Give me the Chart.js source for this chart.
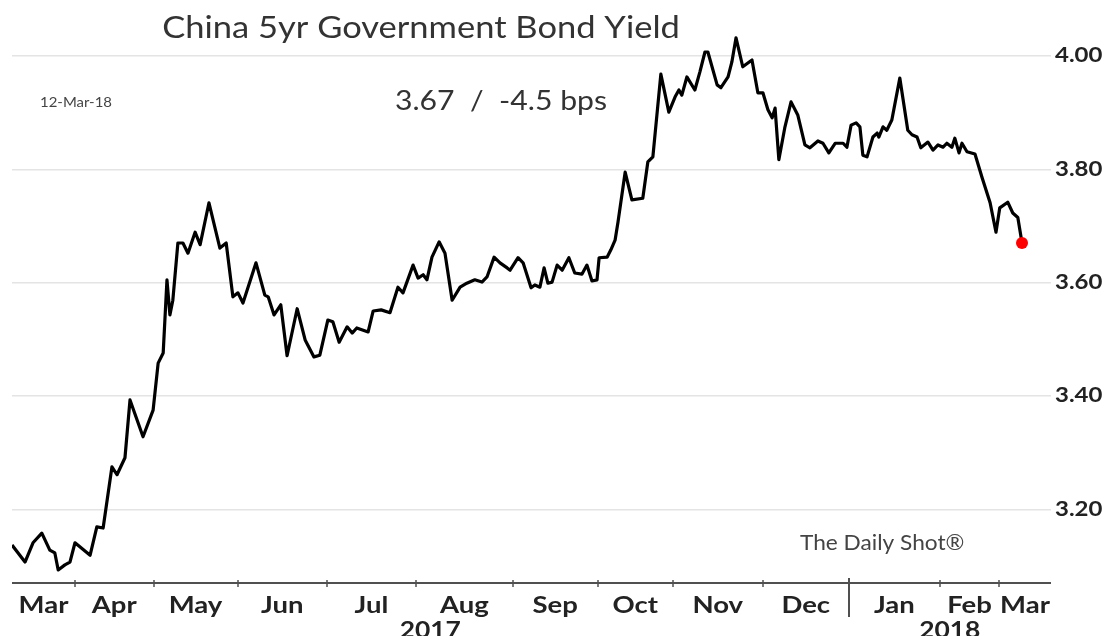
<!DOCTYPE html>
<html>
<head>
<meta charset="utf-8">
<title>China 5yr Government Bond Yield</title>
<script src="https://cdn.jsdelivr.net/npm/chart.js@4.4.1/dist/chart.umd.min.js"></script>
<style>
  html, body { margin: 0; padding: 0; background: #fff; }
</style>
</head>
<body>
<canvas id="yield" width="1107" height="636"></canvas>
<script>
// session number on the x axis (0 = first session shown) and the 5yr yield in %
const tradingDay = [0, 3.1, 5, 7.1, 9, 10.2, 11, 12.6, 13.8, 15,
  18.6, 20.2, 21.7, 23.8, 25, 26.9, 28.1, 31.2, 33.6, 34.8,
  36, 36.9, 37.6, 38.3, 39.5, 40.7, 41.9, 43.6, 44.8, 46.9,
  49.5, 51, 52.6, 53.8, 55, 58.1, 60.2, 61, 62.4, 64,
  65.5, 67.9, 69.8, 71.9, 73.3, 75.2, 76.4, 77.9, 79.8, 81,
  82.1, 84.8, 86, 87.9, 90, 91.9, 93.1, 95.5, 96.7, 97.9,
  98.8, 100, 101.7, 103.1, 104.8, 106.7, 108.3, 110.2, 111.9, 113.1,
  114.8, 116.2, 117.9, 118.6, 120.5, 121.7, 123.6, 124.5, 125.7, 126.7,
  127.6, 128.6, 129.8, 131, 132.6, 134, 135.7, 136.9, 138.1, 139.3,
  139.8, 141.7, 142.6, 143.6, 144.3, 146, 147.6, 150.2, 151.4, 152.6,
  154.5, 156.4, 157.9, 158.8, 159.5, 160.7, 162.6, 163.8, 165, 165.7,
  167.9, 168.8, 170.5, 171.4, 172.4, 174, 176.2, 177.6, 178.8, 180,
  181, 181.7, 182.6, 184, 185.5, 187.1, 188.8, 190, 191.9, 193.1,
  194.5, 196, 197.9, 198.8, 199.8, 201, 201.9, 202.6, 203.6, 205,
  206, 206.4, 207.4, 208.3, 209.5, 211.4, 213.3, 214.3, 215.5, 216.4,
  218.1, 219.3, 220.5, 221.7, 222.6, 223.8, 224.5, 225.5, 226.2, 227.4,
  229.3, 231, 232.9, 234.3, 235.2, 237.1, 238.3, 239.5, 240.5];

const yields = [3.137, 3.107, 3.141, 3.158, 3.128, 3.123, 3.093, 3.102, 3.107, 3.141,
  3.119, 3.169, 3.167, 3.275, 3.261, 3.291, 3.393, 3.328, 3.375, 3.458,
  3.476, 3.605, 3.543, 3.569, 3.670, 3.670, 3.652, 3.689, 3.667, 3.741,
  3.661, 3.670, 3.575, 3.582, 3.564, 3.635, 3.578, 3.575, 3.543, 3.561,
  3.471, 3.554, 3.499, 3.469, 3.472, 3.534, 3.531, 3.495, 3.522, 3.511,
  3.520, 3.513, 3.550, 3.552, 3.547, 3.592, 3.582, 3.631, 3.608, 3.614,
  3.605, 3.645, 3.672, 3.652, 3.569, 3.592, 3.599, 3.605, 3.601, 3.610,
  3.645, 3.635, 3.626, 3.622, 3.644, 3.635, 3.591, 3.596, 3.592, 3.626,
  3.599, 3.601, 3.631, 3.622, 3.644, 3.617, 3.615, 3.631, 3.603, 3.605,
  3.644, 3.645, 3.658, 3.675, 3.707, 3.795, 3.746, 3.749, 3.813, 3.822,
  3.968, 3.901, 3.928, 3.940, 3.931, 3.963, 3.940, 3.972, 4.007, 4.007,
  3.949, 3.944, 3.963, 3.989, 4.032, 3.981, 3.993, 3.935, 3.935, 3.905,
  3.891, 3.908, 3.817, 3.873, 3.919, 3.896, 3.843, 3.838, 3.850, 3.846,
  3.829, 3.846, 3.846, 3.839, 3.878, 3.882, 3.875, 3.825, 3.822, 3.857,
  3.864, 3.857, 3.875, 3.869, 3.887, 3.961, 3.869, 3.861, 3.857, 3.838,
  3.848, 3.834, 3.843, 3.839, 3.846, 3.839, 3.855, 3.829, 3.846, 3.831,
  3.827, 3.785, 3.741, 3.689, 3.732, 3.742, 3.723, 3.715, 3.670];

// first session of each month (Apr 2017 .. Mar 2018) and the month names between them
const monthStarts = [15, 33.7, 53.7, 75, 96.2, 119.2, 139.5, 157.3, 178.8, 199.2, 221, 235];
const monthLabels = ['Mar', 'Apr', 'May', 'Jun', 'Jul', 'Aug', 'Sep', 'Oct', 'Nov', 'Dec', 'Jan', 'Feb', 'Mar'];
const yearLabels = ['2017', '2018'];
const yearBreak = 9;            // index in monthStarts where 2018 begins
const yTicks = [3.2, 3.4, 3.6, 3.8, 4.0];
const asOf = '12-Mar-18';

const X_MAX = 247.4;
const Y_MIN = 3.07, Y_MAX = 4.0635;

const points = tradingDay.map((d, i) => ({ x: d, y: yields[i] }));
const lastIdx = yields.length - 1;
const lastVal = yields[lastIdx];
const changeBps = (lastVal - yields[lastIdx - 1]) * 100;

// tick labels sit halfway between month boundaries
const bounds = [0, ...monthStarts, X_MAX];
const labelAt = monthLabels.map((_, i) => (bounds[i] + bounds[i + 1]) / 2);

const FONT = 'Lato, "Open Sans", sans-serif';

// the house font is wider than Lato, so text gets a horizontal stretch
function wideText(ctx, text, x, y, sx, align) {
  ctx.save();
  ctx.translate(x, y);
  ctx.scale(sx, 1);
  ctx.textAlign = align;
  ctx.fillText(text, 0, 0);
  ctx.restore();
}

const decor = {
  id: 'decor',
  afterDraw(chart) {
    const { ctx, chartArea: a, scales: { x, y } } = chart;
    ctx.save();

    // x axis line
    ctx.strokeStyle = '#505050';
    ctx.lineWidth = 2;
    ctx.beginPath();
    ctx.moveTo(a.left, a.bottom);
    ctx.lineTo(a.right, a.bottom);
    ctx.stroke();

    // month ticks, with a long one at the turn of the year
    monthStarts.forEach((d, i) => {
      const px = Math.round(x.getPixelForValue(d));
      ctx.beginPath();
      if (i === yearBreak) {
        ctx.lineWidth = 2;
        ctx.moveTo(px, a.bottom - 5);
        ctx.lineTo(px, a.bottom + 34);
      } else {
        ctx.lineWidth = 1.5;
        ctx.moveTo(px, a.bottom - 3);
        ctx.lineTo(px, a.bottom + 4);
      }
      ctx.stroke();
    });

    ctx.textBaseline = 'alphabetic';
    ctx.fillStyle = '#222';

    // month names and years along the bottom
    ctx.font = 'bold 22px ' + FONT;
    monthLabels.forEach((m, i) => {
      wideText(ctx, m, x.getPixelForValue(labelAt[i]), a.bottom + 30, 1.25, 'center');
    });
    const yb = monthStarts[yearBreak];
    wideText(ctx, yearLabels[0], x.getPixelForValue(yb / 2), 638, 1.2, 'center');
    wideText(ctx, yearLabels[1], x.getPixelForValue((yb + X_MAX) / 2), 638, 1.2, 'center');

    // yield labels on the right
    ctx.font = 'bold 20px ' + FONT;
    ctx.textBaseline = 'middle';
    yTicks.forEach(v => {
      wideText(ctx, v.toFixed(2), a.right + 4, y.getPixelForValue(v), 1.2, 'left');
    });
    ctx.textBaseline = 'alphabetic';

    // title and notes
    ctx.fillStyle = '#333';
    ctx.font = '30px ' + FONT;
    wideText(ctx, 'China 5yr Government Bond Yield', 421, 38, 1.15, 'center');

    ctx.font = '26px ' + FONT;
    wideText(ctx, lastVal.toFixed(2) + '  /  ' + changeBps.toFixed(1) + ' bps', 395, 110, 1.16, 'left');

    ctx.fillStyle = '#444';
    ctx.font = '13px ' + FONT;
    wideText(ctx, asOf, 40, 107, 1.15, 'left');

    ctx.font = '22px ' + FONT;
    wideText(ctx, 'The Daily Shot\u00AE', 800, 550, 1.03, 'left');

    ctx.restore();
  }
};

new Chart(document.getElementById('yield'), {
  type: 'line',
  data: {
    datasets: [{
      data: points,
      borderColor: '#000',
      borderWidth: 3.2,
      borderJoinStyle: 'round',
      tension: 0,
      pointRadius: c => (c.dataIndex === lastIdx ? 6 : 0),
      pointHoverRadius: 0,
      pointBackgroundColor: '#ff0000',
      pointBorderWidth: 0
    }]
  },
  options: {
    responsive: false,
    animation: false,
    devicePixelRatio: 1,
    layout: { padding: { left: 12, top: 20, right: 0, bottom: 0 } },
    plugins: { legend: { display: false }, tooltip: { enabled: false } },
    scales: {
      x: {
        type: 'linear',
        min: 0,
        max: X_MAX,
        afterBuildTicks: s => { s.ticks = labelAt.map(v => ({ value: v })); },
        afterFit: s => { s.height = 53; },
        grid: { display: false, drawTicks: false },
        border: { display: false },
        ticks: { display: false }
      },
      y: {
        position: 'right',
        min: Y_MIN,
        max: Y_MAX,
        afterBuildTicks: s => { s.ticks = yTicks.map(v => ({ value: v })); },
        afterFit: s => { s.width = 56; },
        grid: { color: '#e4e4e4', lineWidth: 1.5, drawTicks: false },
        border: { display: false },
        ticks: { display: false }
      }
    }
  },
  plugins: [decor]
});
</script>
</body>
</html>
